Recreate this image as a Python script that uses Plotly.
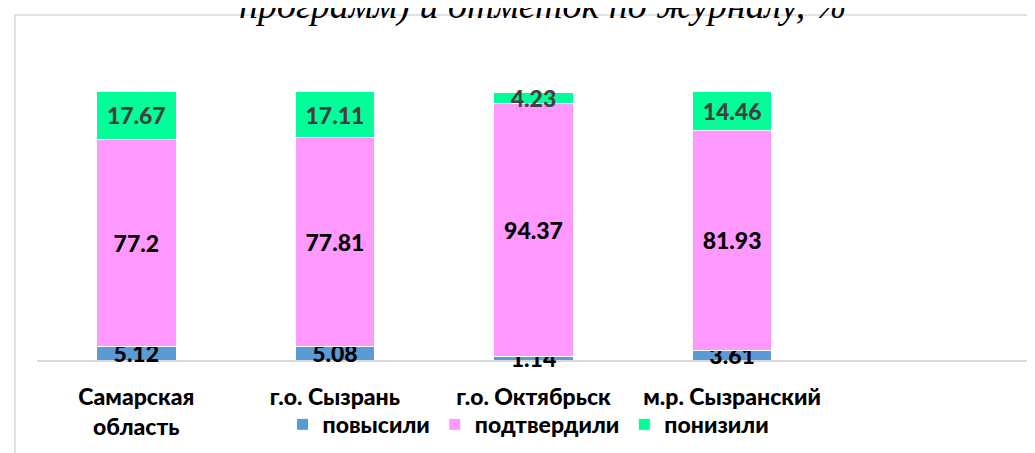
import plotly.graph_objects as go

categories = ["Самарская<br>область", "г.о. Сызрань", "г.о. Октябрьск", "м.р. Сызранский", " "]
raised = [5.12, 5.08, 1.14, 3.61, None]
confirmed = [77.2, 77.81, 94.37, 81.93, None]
lowered = [17.67, 17.11, 4.23, 14.46, None]

series = [
    ("повысили", raised, "#5B9BD5", "black"),
    ("подтвердили", confirmed, "#FF99FF", "black"),
    ("понизили", lowered, "#00FF99", "#404040"),
]

fig = go.Figure()
for name, vals, col, tcol in series:
    fig.add_trace(go.Bar(
        x=categories, y=vals, name=name,
        marker=dict(color=col, line=dict(color="white", width=1)),
        text=[("" if v is None else f"{v:g}") for v in vals],
        textposition="inside", insidetextanchor="middle",
        textfont=dict(family="Lato", size=23, color=tcol, weight=900),
        width=0.4, cliponaxis=False,
    ))

# page is offset by 8px (body margin), positions compensated
fig.update_layout(
    barmode="stack",
    width=1035, height=453,
    margin=dict(l=29, r=13, t=30, b=101),
    plot_bgcolor="white", paper_bgcolor="white",
    uniformtext=dict(minsize=23, mode="show"),
    showlegend=True,
    legend=dict(orientation="h", x=0.495, xanchor="center", y=-0.2, yanchor="middle",
                bgcolor="rgba(0,0,0,0)",
                font=dict(family="Lato", size=23, color="black", weight=900),
                traceorder="normal", itemwidth=30),
    xaxis=dict(showline=True, linecolor="#D9D9D9", linewidth=1.5, layer="below traces",
               ticks="outside", ticklen=16, tickcolor="rgba(0,0,0,0)",
               tickfont=dict(family="Lato", size=23, color="black", weight=900),
               showgrid=False),
    yaxis=dict(range=[0, 120], visible=False, showgrid=False),
    shapes=[dict(type="rect", xref="paper", yref="paper", layer="below",
                 x0=-0.0222, x1=1.2, y0=-0.5, y1=1.0714,
                 line=dict(color="#D9D9D9", width=1.5))],
    annotations=[dict(text="программ) и отметок по журналу, %", xref="paper", yref="paper",
                      x=0.51, y=1.028, xanchor="center", yanchor="bottom", showarrow=False,
                      font=dict(family="Liberation Serif", size=38, color="black", style="italic"))],
)

fig.write_html("out.html")
